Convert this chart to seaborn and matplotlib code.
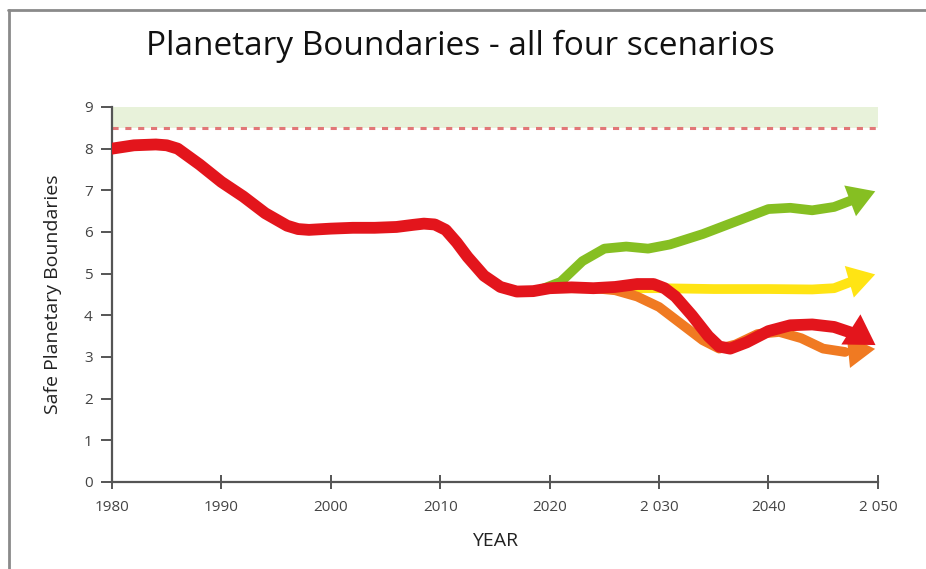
import matplotlib
matplotlib.use("Agg")
import matplotlib.pyplot as plt
import seaborn as sns
import pandas as pd
from matplotlib.lines import Line2D

# ---- data ----
red_years = [1980, 1982, 1984, 1985, 1986, 1988, 1990, 1992, 1994, 1996, 1997, 1998, 2000, 2002, 2004,
             2006, 2007.5, 2008.5, 2009.5, 2010.5, 2011.5, 2012.5, 2014, 2015.5, 2017, 2018.5, 2020,
             2022, 2024, 2026, 2028, 2029.5, 2030.5, 2031.5, 2033, 2034.5, 2035.5, 2036.5, 2038,
             2040, 2042, 2044, 2046, 2048.5, 2050]
red_vals = [8.0, 8.08, 8.1, 8.08, 8.0, 7.62, 7.2, 6.85, 6.45, 6.15, 6.07, 6.05, 6.08, 6.1, 6.1,
            6.12, 6.17, 6.2, 6.18, 6.05, 5.75, 5.4, 4.95, 4.68, 4.57, 4.58, 4.65,
            4.67, 4.65, 4.68, 4.75, 4.75, 4.65, 4.45, 4.0, 3.5, 3.25, 3.2, 3.35,
            3.62, 3.76, 3.78, 3.72, 3.5, 3.25]

green_years = [2018, 2019, 2021, 2023, 2025, 2027, 2029, 2031, 2034, 2037, 2040, 2042, 2044, 2046, 2048, 2050]
green_vals = [4.58, 4.6, 4.8, 5.3, 5.6, 5.65, 5.6, 5.7, 5.95, 6.25, 6.55, 6.58, 6.52, 6.6, 6.8, 7.0]

yellow_years = [2020, 2025, 2030, 2035, 2040, 2044, 2046, 2048, 2050]
yellow_vals = [4.65, 4.65, 4.65, 4.63, 4.63, 4.62, 4.65, 4.85, 5.0]

orange_years = [2024, 2026, 2028, 2030, 2032, 2034, 2035.5, 2037, 2039, 2041, 2043, 2045, 2047, 2050]
orange_vals = [4.65, 4.6, 4.45, 4.2, 3.8, 3.4, 3.2, 3.3, 3.55, 3.6, 3.45, 3.2, 3.12, 3.2]

safe_low, safe_high = 8.5, 9.0
x_ticks = [1980, 1990, 2000, 2010, 2020, 2030, 2040, 2050]
x_ticklabels = ["1980", "1990", "2000", "2010", "2020", "2 030", "2040", "2 050"]
y_ticks = list(range(0, 10))

sns.set_style("white")
plt.rcParams["font.family"] = ["Open Sans", "DejaVu Sans"]

fig = plt.figure(figsize=(9.26, 5.69), dpi=100)
ax = fig.add_axes([0.121, 0.153, 0.827, 0.659])

# frame lines of the figure (top and left)
fig.add_artist(Line2D([0.009, 1.0], [0.982, 0.982], transform=fig.transFigure, color="#8a8a8a", lw=2.0))
fig.add_artist(Line2D([0.0095, 0.0095], [0.0, 0.982], transform=fig.transFigure, color="#8a8a8a", lw=2.0))

ax.axhspan(safe_low, safe_high, color="#e8f2da", zorder=0, lw=0)
ax.axhline(safe_low, color="#e27777", lw=2.2, ls=(0, (2.0, 2.2)), zorder=1)

series = [
    (green_years, green_vals, "#86bf22", 7.0, 2),
    (yellow_years, yellow_vals, "#ffe414", 7.0, 3),
    (orange_years, orange_vals, "#f07a22", 7.0, 4),
    (red_years, red_vals, "#e3151c", 8.5, 5),
]

for xs, ys, c, lw, z in series:
    df = pd.DataFrame({"year": xs[:-1], "value": ys[:-1]})
    sns.lineplot(data=df, x="year", y="value", ax=ax, color=c, lw=lw, sort=False,
                 estimator=None, zorder=z, solid_capstyle="round", solid_joinstyle="round")
    ax.annotate("", xy=(xs[-1], ys[-1]), xytext=(xs[-2], ys[-2]),
                arrowprops=dict(arrowstyle="-|>,head_length=0.9,head_width=0.55",
                                color=c, lw=lw * 0.75, mutation_scale=13, shrinkA=0, shrinkB=2,
                                joinstyle="miter", capstyle="butt"),
                zorder=z)

ax.set_xlim(1980, 2050)
ax.set_ylim(0, 9)
ax.set_xticks(x_ticks)
ax.set_xticklabels(x_ticklabels)
ax.set_yticks(y_ticks)

for side in ["top", "right"]:
    ax.spines[side].set_visible(False)
for side in ["left", "bottom"]:
    ax.spines[side].set_color("#555555")
    ax.spines[side].set_linewidth(1.6)

ax.tick_params(axis="y", direction="out", length=8, width=1.4, color="#555555",
               labelsize=11, labelcolor="#444444", pad=6, left=True)
ax.tick_params(axis="x", direction="inout", length=10, width=1.4, color="#555555",
               labelsize=11, labelcolor="#444444", pad=8, bottom=True)

ax.set_xlabel("YEAR", fontsize=14, color="#222222", labelpad=12)
ax.set_ylabel("Safe Planetary Boundaries", fontsize=14, color="#222222", labelpad=16)

fig.text(0.497, 0.918, "Planetary Boundaries - all four scenarios", ha="center", va="center",
         fontsize=24, color="#111111")

fig.savefig("out.png", dpi=100)
